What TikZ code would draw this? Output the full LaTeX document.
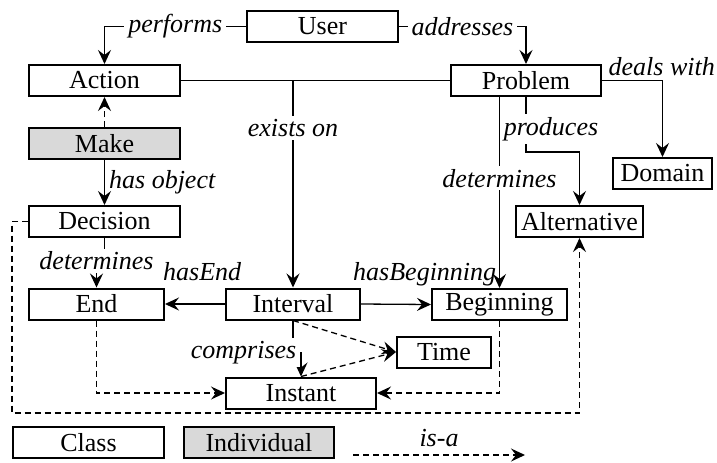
\documentclass[tikz,border=0pt]{standalone}
\usepackage{fontspec}
\setmainfont{Liberation Serif}
\usetikzlibrary{arrows.meta}
\tikzset{
    class-box/.style = {draw=black, fill=white, line width=1pt, rectangle, minimum height=15.5pt, inner sep=1pt, font=\fontsize{13}{15}\selectfont},
    individual-box/.style = {class-box, fill=gray!30},
    link/.style = {draw=black, line width=0.65pt},
    rel-line/.style = {link, -{Stealth[length=7pt, width=6.5pt, inset=2.5pt]}},
    isa-line/.style = {rel-line, dash pattern=on 3pt off 2pt},
    rel-label/.style = {fill=white, inner xsep=2pt, inner ysep=1.5pt, font=\fontsize{13}{15}\selectfont\itshape},
    rel-note/.style = {inner sep=2pt, font=\fontsize{13}{15}\selectfont\itshape},
}

\begin{document}
\begin{tikzpicture}[x=0.5pt, y=-0.5pt]
\useasboundingbox (0,0) rectangle (717,462);
\node [class-box, minimum width=75.5pt] (user) at (322.5,26.5) {User};
\node [class-box, minimum width=75.5pt] (action) at (104.5,80.5) {Action};
\node [class-box, minimum width=75pt] (problem) at (526,80.5) {Problem};
\node [individual-box, minimum width=75.5pt] (make) at (104.5,143.5) {Make};
\node [class-box, minimum width=75.5pt] (decision) at (104.5,221.5) {Decision};
\node [class-box, minimum width=49.5pt] (domain) at (662.5,173.5) {Domain};
\node [class-box, minimum width=63.5pt] (alternative) at (579.5,221.5) {Alternative};
\node [class-box, minimum width=67.5pt] (end) at (96.5,304) {End};
\node [class-box, minimum width=67pt] (interval) at (293,304) {Interval};
\node [class-box, minimum width=67.5pt] (beginning) at (499.5,304.5) {Beginning};
\node [class-box, minimum width=47pt] (time) at (444,352) {Time};
\node [class-box, minimum width=75pt] (instant) at (301,393) {Instant};
\node [class-box, minimum width=75.5pt] (class) at (88.5,442.5) {Class};
\node [individual-box, minimum width=75pt] (individual) at (259,442.5) {Individual};

\draw [rel-line] (user.west) -| node[rel-label, pos=0.25] {performs} (action.north);
\draw [rel-line] (user.east) -| node[rel-label, pos=0.25] {addresses} (problem.north);
\draw [link] (action.east) -- (problem.west);
\coordinate (exists) at (interval.north |- action.east);
\draw [rel-line] (exists) -- node[rel-label, pos=0.23] {exists on} (interval.north);
\draw [isa-line] (make.north) -- (action.south);
\draw [rel-line] (make.south) -- node[rel-note, right] {has object} (decision.north);
\draw [rel-line] (decision.south) -- ++(0,23) -| node[rel-label, pos=0.5] {determines} (end.north);
\draw [rel-line] (interval.west) -- node[rel-note, anchor=base, yshift=12pt, pos=0.38] {hasEnd} (end.east);
\draw [rel-line] (interval.east) -- node[rel-note, anchor=base, yshift=12pt, pos=0.91] {hasBeginning} (beginning.west);
\coordinate (problem-out) at (beginning.north |- problem.south);
\draw [rel-line] (problem-out) -- node[rel-label, pos=0.425] {determines} (beginning.north);
\draw [rel-line] (problem.south) -- node[rel-label, pos=0.58, xshift=12.5pt] {produces} ++(0,55) -| (alternative.north);
\draw [rel-line] (problem.east) -| node[rel-note, pos=0, anchor=south west, xshift=1pt] {deals with} (domain.north);
\draw [isa-line] (decision.west) -- ++(-16,0) -- ++(0,191.5) -| (alternative.south);
\draw [isa-line] (end.south) |- (instant.west);
\draw [isa-line] (beginning.south) |- (instant.east);
\draw [isa-line] (interval.south) -- (time.west);
\draw [isa-line] (instant.north) -- (time.west);
\draw [rel-line] (interval.south) -- node[rel-label, pos=1, anchor=east, xshift=4pt] {comprises} ++(0,32) -| (instant.north);

\coordinate (isa-from) at (353,455);
\coordinate (isa-to) at (525,455);
\draw [isa-line] (isa-from) -- node[rel-note, above=2pt] {is-a} (isa-to);
\end{tikzpicture}
\end{document}
